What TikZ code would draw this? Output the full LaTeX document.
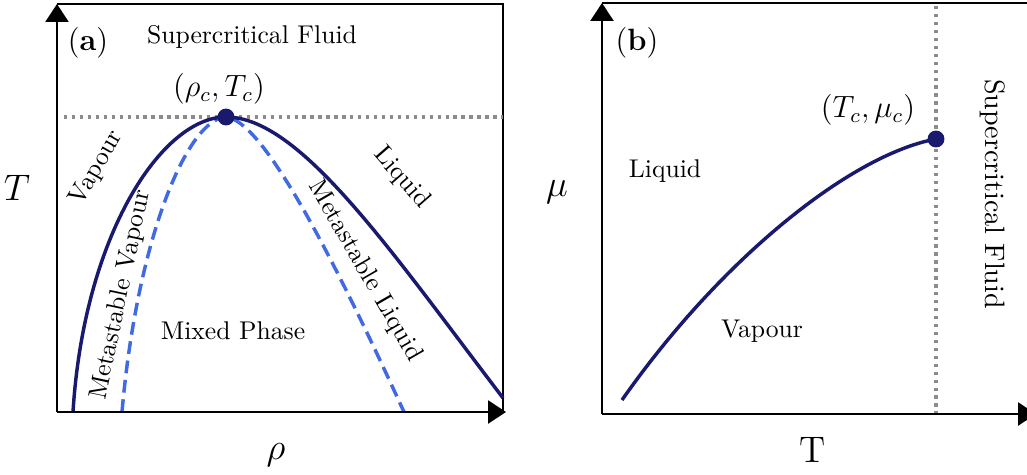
\documentclass[tikz,border=0pt]{standalone}
\usepackage{amsmath,amssymb}
\usepackage{xcolor}
\usetikzlibrary{arrows.meta,calc}

\definecolor{coexnavy}{RGB}{25,25,112}
\definecolor{spinblue}{RGB}{65,105,225}

\tikzset{
  axis/.style={line width=0.8pt,-{Triangle[length=7pt,width=9pt]}},
  boxline/.style={line width=0.8pt},
  coex/.style={coexnavy,line width=1.35pt},
  spin/.style={spinblue,line width=1.35pt,dash pattern=on 5pt off 2.6pt},
  critline/.style={black!45,line width=1.2pt,dash pattern=on 1.3pt off 1.8pt},
  critdot/.style={circle,fill=coexnavy,inner sep=0pt,minimum size=6.6pt},
  axlabel/.style={font=\Large},
  panel/.style={font=\large}
}

\begin{document}
\begin{tikzpicture}[x=0.39pt,y=-0.39pt]
  \useasboundingbox (0,0) rectangle (1027,474);
  % (a) density--temperature
  \coordinate (oa) at (57,412);
  \coordinate (cpa) at (226,117);
  \draw[boxline] (57,4) -- (503,4) -- (503,412);
  \draw[critline] (64,117) -- (503,117);
  \draw[spin] (122,412) .. controls (137,240) and (187,119) .. (cpa)
               .. controls (262,120) and (330,250) .. (404,412);
  \draw[coex] (73,412) .. controls (84,235) and (162,117) .. (cpa)
               .. controls (300,117) and (390,250) .. (503,398);
  \draw[axis] (oa) -- (57,4);
  \draw[axis] (oa) -- (506,412);
  \node[critdot] (dota) at (cpa) {};
  \node[panel] (taga) at (88,43) {(\textbf{a})};
  \node (scfa) at (252,37) {Supercritical Fluid};
  \node[font=\large] (cpalab) at (219,89) {$(\rho_c,T_c)$};
  \node[rotate=60] (vapa) at (97,168) {Vapour};
  \node[rotate=78] (mvap) at (121,295) {Metastable Vapour};
  \node (mix) at (233,331) {Mixed Phase};
  \node[rotate=-60] (mliq) at (365,271) {Metastable Liquid};
  \node[rotate=-49] (liqa) at (402,178) {Liquid};
  \node[axlabel] (ya) at (17,188) {$T$};
  \node[axlabel] (xa) at (276,455) {$\rho$};

  % (b) temperature--chemical potential
  \coordinate (ob) at (602,414);
  \coordinate (cpb) at (936,139);
  \draw[boxline] (602,3) -- (1040,3);
  \draw[critline] (936,6) -- (936,414);
  \draw[coex] (622,400) .. controls (720,260) and (850,155) .. (cpb);
  \draw[axis] (ob) -- (602,3);
  \draw[axis] (ob) -- (1036,414);
  \node[critdot] (dotb) at (cpb) {};
  \node[panel] (tagb) at (637,43) {(\textbf{b})};
  \node[font=\large] (cpblab) at (868,110) {$(T_c,\mu_c)$};
  \node (liqb) at (665,171) {Liquid};
  \node (vapb) at (762,331) {Vapour};
  \node[rotate=-90,font=\fontsize{10.95pt}{13pt}\selectfont] (scfb) at (993,194) {Supercritical Fluid};
  \node[axlabel] (yb) at (557,192) {$\mu$};
  \node[axlabel] (xb) at (813,450) {T};
\end{tikzpicture}
\end{document}
